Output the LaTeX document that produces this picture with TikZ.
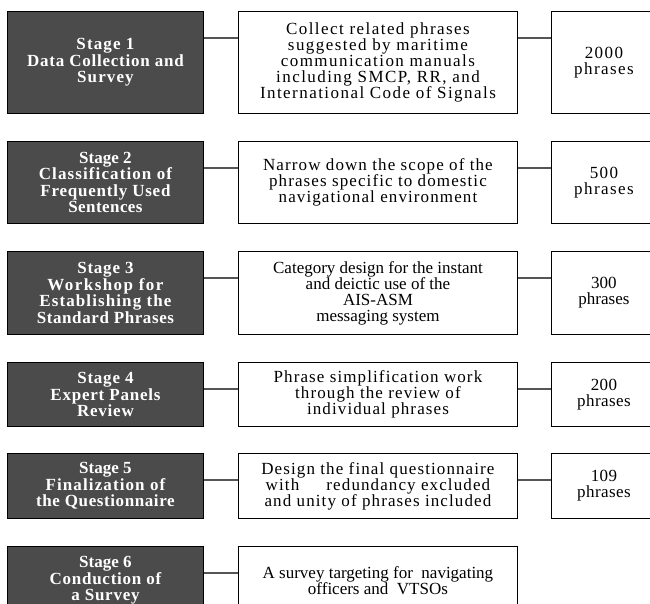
\documentclass[tikz,border=0pt]{standalone}
\usepackage{fontspec}
\setmainfont{Liberation Serif}
\newcommand{\ls}[2]{{\addfontfeatures{LetterSpace=#1}#2}}
\definecolor{darkfill}{HTML}{4B4B4B}
\definecolor{conncol}{HTML}{555555}
\tikzset{
  base/.style={anchor=north west, align=center, inner sep=0pt, line width=0.9pt},
  darkbox/.style={base, draw=black, fill=darkfill, text=white, minimum width=196pt, font=\fontsize{17}{16.5}\selectfont\bfseries},
  midbox/.style={base, draw=black, fill=white, text=black, minimum width=279pt, font=\fontsize{17}{16}\selectfont},
  numbox/.style={base, draw=black, fill=white, text=black, minimum width=105pt, font=\fontsize{17}{16}\selectfont},
  conn/.style={draw=conncol, line width=1.1pt}
}
\begin{document}
\begin{tikzpicture}[x=1pt,y=-1pt]
\useasboundingbox (0,0) rectangle (650,603);
% Row 1
\node[darkbox, minimum height=102pt] (s1) at (7,11) {\ls{6.5}{Stage 1}\\\ls{4.5}{Data Collection and}\\\ls{6.5}{Survey}};
\node[midbox, minimum height=102pt] (m1) at (238,11) {\ls{8.5}{Collect related phrases}\\\ls{8.5}{suggested by maritime}\\\ls{8.5}{communication manuals}\\\ls{8.5}{including SMCP, RR, and}\\\ls{8.5}{International Code of Signals}};
\node[numbox, minimum height=102pt] (r1) at (551,11) {\ls{8.5}{2000}\\\ls{8.5}{phrases}};
% Row 2
\node[darkbox, minimum height=82pt] (s2) at (7,141) {Stage 2\\\ls{6.5}{Classification of}\\\ls{4.5}{Frequently Used}\\\ls{2.5}{Sentences}};
\node[midbox, minimum height=82pt] (m2) at (238,141) {\ls{6.5}{Narrow down the scope of the}\\\ls{6.5}{phrases specific to domestic}\\\ls{6.5}{navigational environment}};
\node[numbox, minimum height=82pt] (r2) at (551,141) {\ls{8.5}{500}\\\ls{8.5}{phrases}};
% Row 3
\node[darkbox, minimum height=83pt] (s3) at (7,251) {\ls{4.5}{Stage 3}\\\ls{8.5}{Workshop for}\\\ls{6.5}{Establishing the}\\\ls{3.5}{Standard Phrases}};
\node[midbox, minimum height=83pt] (m3) at (238,251) {Category design for the instant\\and deictic use of the\\AIS-ASM\\messaging system};
\node[numbox, minimum height=83pt] (r3) at (551,251) {300\\phrases};
% Row 4
\node[darkbox, minimum height=64pt] (s4) at (7,362) {\ls{4.5}{Stage 4}\\\ls{4.5}{Expert Panels}\\\ls{4.5}{Review}};
\node[midbox, minimum height=64pt] (m4) at (238,362) {\ls{6.5}{Phrase simplification work}\\\ls{6.5}{through the review of}\\\ls{6.5}{individual phrases}};
\node[numbox, minimum height=64pt] (r4) at (551,362) {\ls{2.5}{200}\\\ls{2.5}{phrases}};
% Row 5
\node[darkbox, minimum height=65pt] (s5) at (7,453) {Stage 5\\\ls{6.5}{Finalization of}\\\ls{3.5}{the Questionnaire}};
\node[midbox, minimum height=65pt] (m5) at (238,453) {\ls{6.5}{Design the final questionnaire}\\\ls{6.5}{with\hspace{1.6em}redundancy excluded}\\\ls{6.5}{and unity of phrases included}};
\node[numbox, minimum height=65pt] (r5) at (551,453) {\ls{2.5}{109}\\\ls{2.5}{phrases}};
% Row 6
\node[darkbox, minimum height=68pt] (s6) at (7,546) {Stage 6\\\ls{4.5}{Conduction of}\\\ls{4.5}{a Survey}};
\node[midbox, minimum height=68pt] (m6) at (238,546) {A survey targeting for\ \ navigating\\officers and\ \ VTSOs};
% connectors
\foreach \i in {1,...,6}{
  \draw[conn] ([yshift=-27pt]s\i.north east) -- ([yshift=-27pt]m\i.north west);
}
\foreach \i in {1,...,5}{
  \draw[conn] ([yshift=-27pt]m\i.north east) -- ([yshift=-27pt]r\i.north west);
}
\end{tikzpicture}
\end{document}
